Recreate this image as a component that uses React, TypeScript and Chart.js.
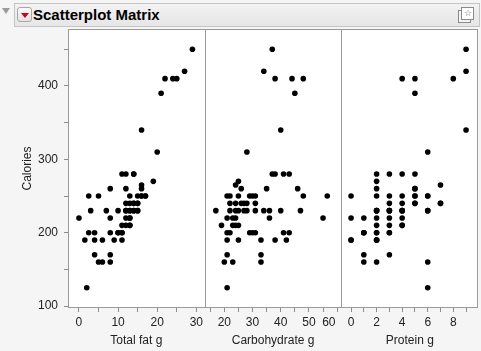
import React, { useEffect, useRef } from 'react';
import { Chart, registerables } from 'chart.js';
Chart.register(...registerables);

// ---- data (one entry per food item) ----
const calories = [
  450, 420, 410, 410, 410, 390, 340, 310, 280, 280, 280, 280, 270, 265, 260, 260, 260,
  250, 250, 250, 250, 250, 250, 250, 250,
  240, 240, 240, 240, 240, 240,
  230, 230, 230, 230, 230, 230, 230, 230, 230, 230, 230,
  220, 220, 220, 220, 220,
  210, 210, 210, 210,
  200, 200, 200, 200, 200, 200, 200,
  190, 190, 190, 190, 190,
  170, 170,
  160, 160, 160,
  125,
];
const totalFat = [
  29, 27, 22, 24, 25, 21, 16, 20, 11, 12, 14, 14, 19, 16, 8, 12, 16,
  2.5, 5, 13, 15, 16, 17, 17, 16,
  12, 13, 14, 15, 15, 14,
  3, 7, 10, 12, 13, 14, 15, 15, 14, 13, 12,
  0, 8, 12, 13, 13,
  11, 12, 13, 13,
  2.5, 4, 8, 10, 11, 11, 10,
  1.5, 4, 6, 9, 11,
  4, 8,
  5, 6, 8,
  2,
];
const carbohydrate = [
  37, 34, 38, 44, 48, 45, 40, 28, 37, 38, 41, 43, 25, 24, 26, 35, 46,
  21, 22, 25, 29, 30, 31, 48, 56.5,
  22, 24, 26, 27, 28, 31,
  17, 22, 24, 25, 27, 28, 31, 34, 36, 40, 47,
  21, 23, 24, 36, 55,
  19, 23, 24, 25,
  21, 22, 29, 30, 31, 41, 43,
  21, 25, 33, 38, 42,
  21, 33,
  20, 23, 33,
  21,
];
const protein = [
  9, 9, 4, 5, 8, 5, 9, 6, 2, 3, 4, 5, 2, 7, 2, 5, 5,
  0, 2, 3, 4, 5, 6, 6, 5,
  3, 4, 5, 7, 7, 5,
  2, 3, 4, 6, 6, 4, 3, 2, 2, 3, 4,
  0, 1, 2, 3, 4,
  2, 3, 4, 4,
  1, 2, 3, 3, 2, 1, 1,
  0, 2, 2, 2, 0,
  1, 3,
  1, 2, 6,
  6,
];

// ---- tick labels ----
const calorieTickLabels = [100, 200, 300, 400];
const fatTickLabels = [0, 10, 20, 30];
const carbTickLabels = [20, 30, 40, 50, 60];
const proteinTickLabels = [0, 2, 4, 6, 8];

const FONT = '"Liberation Sans", Arial, sans-serif';
const TICK_COLOR = '#222';
const GRID_COLOR = '#8c8c8c';

function labelCb(labels: number[], edgeLabel?: number) {
  return (v: any) => {
    const n = Number(v);
    const hit = labels.find((l) => Math.abs(l - n) < 1e-6);
    if (hit === undefined) return '';
    if (edgeLabel !== undefined && hit === edgeLabel) return String(hit) + '\u00a0\u00a0\u00a0\u00a0\u00a0';
    return String(hit);
  };
}

function noPad(s: any) {
  s.paddingLeft = 0;
  s.paddingRight = 0;
  s.paddingTop = 0;
  s.paddingBottom = 0;
}

function xAxis(title: string, min: number, max: number, step: number, labels: number[], edge?: number) {
  return {
    type: 'linear',
    position: 'bottom',
    stack: 'matrix',
    min,
    max,
    afterFit: (s: any) => { s.height = 43; noPad(s); },
    border: { display: false },
    grid: { drawOnChartArea: false, tickLength: 4, color: GRID_COLOR },
    ticks: {
      stepSize: step,
      includeBounds: false,
      autoSkip: false,
      maxRotation: 0,
      padding: 3,
      color: TICK_COLOR,
      font: { family: FONT, size: 12 },
      callback: labelCb(labels, edge),
    },
    title: {
      display: true,
      text: title,
      color: TICK_COLOR,
      font: { family: FONT, size: 12 },
      padding: { top: 0, bottom: 3 },
    },
  };
}

const framePlugin = {
  id: 'frames',
  beforeDraw(chart: any) {
    const { ctx, chartArea } = chart;
    ctx.save();
    ctx.fillStyle = '#f5f5f5';
    ctx.fillRect(0, 0, chart.width, chart.height);
    ctx.fillStyle = '#ffffff';
    ctx.fillRect(chartArea.left, chartArea.top, chartArea.right - chartArea.left, chartArea.bottom - chartArea.top);
    ctx.restore();
  },
  afterDraw(chart: any) {
    const { ctx, chartArea } = chart;
    ctx.save();
    ctx.strokeStyle = '#9a9a9a';
    ctx.lineWidth = 1;
    const l = Math.round(chartArea.left) + 0.5;
    const r = Math.round(chartArea.right) - 0.5;
    const t = Math.round(chartArea.top) + 0.5;
    const b = Math.round(chartArea.bottom) - 0.5;
    ctx.strokeRect(l, t, r - l, b - t);
    ['xFat', 'xCarb'].forEach((id) => {
      const x = Math.round(chart.scales[id].right) + 0.5;
      ctx.beginPath();
      ctx.moveTo(x, t);
      ctx.lineTo(x, b);
      ctx.stroke();
    });
    ctx.restore();
  },
};

function pts(xs: number[]) {
  return xs.map((x, i) => ({ x, y: calories[i] }));
}

export default function App() {
  const ref = useRef<HTMLCanvasElement | null>(null);
  useEffect(() => {
    if (!ref.current) return;
    const common = { pointRadius: 2.8, pointHoverRadius: 2.8, backgroundColor: '#000', borderColor: '#000', borderWidth: 0, showLine: false };
    const chart = new Chart(ref.current, {
      type: 'scatter',
      data: {
        datasets: [
          { ...common, label: 'Total fat g', data: pts(totalFat), xAxisID: 'xFat', yAxisID: 'y' },
          { ...common, label: 'Carbohydrate g', data: pts(carbohydrate), xAxisID: 'xCarb', yAxisID: 'y' },
          { ...common, label: 'Protein g', data: pts(protein), xAxisID: 'xProt', yAxisID: 'y' },
        ],
      } as any,
      options: {
        animation: false,
        responsive: false,
        devicePixelRatio: 1,
        layout: { padding: { top: 29, left: 0, right: 1, bottom: 0 } },
        plugins: { legend: { display: false }, tooltip: { enabled: false }, title: { display: false } },
        scales: {
          xFat: xAxis('Total fat g', -2.8, 32.15, 5, fatTickLabels),
          xCarb: xAxis('Carbohydrate g', 13.06, 61.53, 5, carbTickLabels, 60),
          xProt: xAxis('Protein g', -0.75, 9.95, 1, proteinTickLabels),
          y: {
            type: 'linear',
            position: 'left',
            min: 97.3,
            max: 477.7,
            afterFit: (s: any) => { s.width = 68; noPad(s); },
            border: { display: false },
            grid: { drawOnChartArea: false, tickLength: 4, color: GRID_COLOR },
            ticks: {
              stepSize: 50,
              includeBounds: false,
              autoSkip: false,
              padding: 6,
              color: TICK_COLOR,
              font: { family: FONT, size: 12 },
              callback: labelCb(calorieTickLabels),
            },
            title: {
              display: true,
              text: 'Calories',
              color: TICK_COLOR,
              font: { family: FONT, size: 12 },
              padding: { top: 20, bottom: 0 },
            },
          },
        } as any,
      },
      plugins: [framePlugin],
    });
    return () => chart.destroy();
  }, []);

  return (
    <div style={{ position: 'fixed', left: 0, top: 0, width: 481, height: 351, background: '#f5f5f5', overflow: 'hidden' }}>
      <canvas ref={ref} width={481} height={351} style={{ position: 'absolute', left: 0, top: 0, width: 481, height: 351 }} />
      {/* disclosure triangle */}
      <div style={{ position: 'absolute', left: 2, top: 8, width: 0, height: 0, borderLeft: '4px solid transparent', borderRight: '4px solid transparent', borderTop: '6px solid #9a9a9a' }} />
      {/* header bar */}
      <div style={{ position: 'absolute', left: 14, top: 3, width: 464, height: 22, border: '1px solid #c4c4c4', background: 'linear-gradient(#f2f2f2, #e6e6e6)' }}>
        <div style={{ position: 'absolute', left: 2, top: 3, width: 13, height: 13, border: '1px solid #a8a8a8', borderRadius: 3, background: 'linear-gradient(#fafafa, #e2e2e2)' }}>
          <div style={{ position: 'absolute', left: 3, top: 5, width: 0, height: 0, borderLeft: '4px solid transparent', borderRight: '4px solid transparent', borderTop: '5px solid #d0021b' }} />
        </div>
        <span style={{ position: 'absolute', left: 18, top: 2, fontFamily: FONT, fontWeight: 'bold', fontSize: 15, color: '#000', lineHeight: '18px', whiteSpace: 'nowrap' }}>Scatterplot Matrix</span>
        <div style={{ position: 'absolute', left: 443, top: 6, width: 11, height: 11, border: '1px solid #8a8a8a', background: '#f4f4f4' }} />
        <div style={{ position: 'absolute', left: 446, top: 3, width: 11, height: 11, border: '1px solid #8a8a8a', background: '#ffffff', fontSize: 9, lineHeight: '11px', textAlign: 'center', color: '#666', fontFamily: FONT }}>{'\u2606'}</div>
      </div>
    </div>
  );
}
